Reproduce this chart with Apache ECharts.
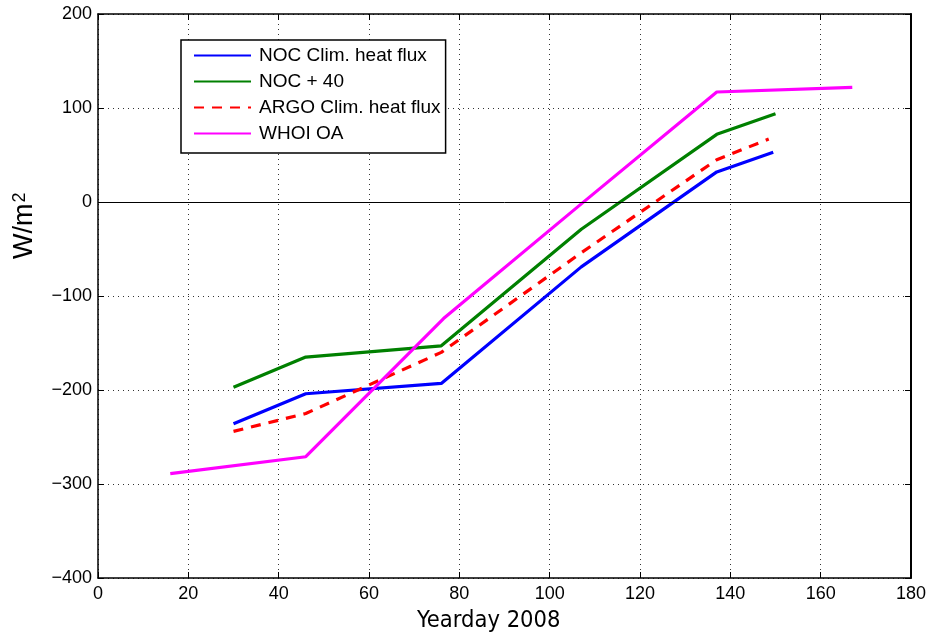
<!DOCTYPE html>
<html>
<head>
<meta charset="utf-8">
<script src="https://cdn.jsdelivr.net/npm/echarts@6/dist/echarts.min.js"></script>
<style>html,body{margin:0;padding:0;background:#fff}#c{width:930px;height:637px}</style>
</head>
<body>
<div id="c"></div>
<script>
const nocX = [30, 46, 76, 107, 137, 149.5];
const nocY = [-236, -204, -193, -69, 32, 53];
const noc40X = [30, 46, 76, 107, 137, 150];
const noc40Y = [-197, -165, -153, -29, 72, 94];
const argoX = [30, 46, 76, 107, 137, 148.5];
const argoY = [-244, -225, -160, -54, 45, 67];
const whoiX = [16, 46, 76.5, 107, 137, 167];
const whoiY = [-289, -271, -124, -2, 117, 122];
const seriesNames = ['NOC Clim. heat flux', 'NOC + 40', 'ARGO Clim. heat flux', 'WHOI OA'];
const xTicks = [0, 20, 40, 60, 80, 100, 120, 140, 160, 180];
const yTicks = [-400, -300, -200, -100, 0, 100, 200];
const xTitle = 'Yearday 2008';

const zip = (xs, ys) => xs.map((x, i) => [x, ys[i]]);
const fontTick = 'Liberation Sans';

const chart = echarts.init(document.getElementById('c'), null, {renderer: 'canvas'});
const gridStyle = {show: true, lineStyle: {color: '#333', type: [1, 4], width: 1}};
chart.setOption({
  animation: false,
  backgroundColor: '#fff',
  grid: {left: 98, right: 19, top: 14, bottom: 59, containLabel: false},
  legend: {
    orient: 'vertical',
    left: 181, top: 40,
    padding: [6, 5, 10, 12],
    itemGap: 7,
    itemWidth: 57,
    itemHeight: 14,
    borderColor: '#000',
    borderWidth: 1.5,
    borderRadius: 0,
    backgroundColor: '#fff',
    itemStyle: {color: 'transparent', borderWidth: 0, opacity: 0},
    textStyle: {fontFamily: fontTick, fontSize: 19, color: '#000', padding: [0, 0, 0, 3]},
    data: seriesNames.map(n => ({name: n}))
  },
  graphic: [
    {type: 'text', left: 417, top: 609,
      style: {text: xTitle, fontFamily: 'DejaVu Sans Condensed', fontSize: 23.5, fill: '#000'}},
    {type: 'text', rotation: Math.PI / 2, x: 11, y: 259,
      style: {text: 'W/m{s|2}', fontFamily: fontTick, fontSize: 27, fill: '#000',
        rich: {s: {fontFamily: fontTick, fontSize: 18, fill: '#000', verticalAlign: 'top', padding: [0, 0, 10, 1]}}}}
  ],
  xAxis: [{
    type: 'value', position: 'bottom', min: 0, max: 180, interval: 20,
    axisLine: {show: true, onZero: false, lineStyle: {color: '#000', width: 1.5}},
    axisTick: {show: true, inside: true, length: 6, lineStyle: {color: '#000'}},
    axisLabel: {fontFamily: fontTick, fontSize: 18, color: '#000', margin: 7,
      formatter: v => xTicks.includes(v) ? String(v) : ''},
    splitLine: gridStyle
  }, {
    type: 'value', position: 'top', min: 0, max: 180, interval: 20,
    axisLine: {show: true, onZero: false, lineStyle: {color: '#000', width: 1.5}},
    axisTick: {show: true, inside: true, length: 6, lineStyle: {color: '#000'}},
    axisLabel: {show: false}, splitLine: {show: false}
  }],
  yAxis: [{
    type: 'value', position: 'left', min: -400, max: 200, interval: 100,
    axisLine: {show: true, onZero: false, lineStyle: {color: '#000', width: 1.5}},
    axisTick: {show: true, inside: true, length: 6, lineStyle: {color: '#000'}},
    axisLabel: {fontFamily: fontTick, fontSize: 18, color: '#000', margin: 6,
      formatter: v => yTicks.includes(v) ? (v < 0 ? '\u2212' + Math.abs(v) : String(v)) : ''},
    splitLine: gridStyle
  }, {
    type: 'value', position: 'right', min: -400, max: 200, interval: 100,
    axisLine: {show: true, onZero: false, lineStyle: {color: '#000', width: 2}},
    axisTick: {show: true, inside: true, length: 6, lineStyle: {color: '#000'}},
    axisLabel: {show: false}, splitLine: {show: false}
  }],
  series: [
    {name: seriesNames[0], type: 'line', data: zip(nocX, nocY), symbol: 'none',
      lineStyle: {color: '#0000ff', width: 3.2}, itemStyle: {color: '#0000ff'}, z: 3,
      markLine: {silent: true, symbol: 'none', label: {show: false},
        lineStyle: {color: '#000', type: 'solid', width: 1}, data: [{yAxis: 0}]}},
    {name: seriesNames[1], type: 'line', data: zip(noc40X, noc40Y), symbol: 'none',
      lineStyle: {color: '#008000', width: 3.2}, itemStyle: {color: '#008000'}, z: 3},
    {name: seriesNames[2], type: 'line', data: zip(argoX, argoY), symbol: 'none',
      lineStyle: {color: '#ff0000', width: 3.2, type: [10, 8]}, itemStyle: {color: '#ff0000'}, z: 3},
    {name: seriesNames[3], type: 'line', data: zip(whoiX, whoiY), symbol: 'none',
      lineStyle: {color: '#ff00ff', width: 3.2}, itemStyle: {color: '#ff00ff'}, z: 3}
  ]
});
</script>
</body>
</html>
